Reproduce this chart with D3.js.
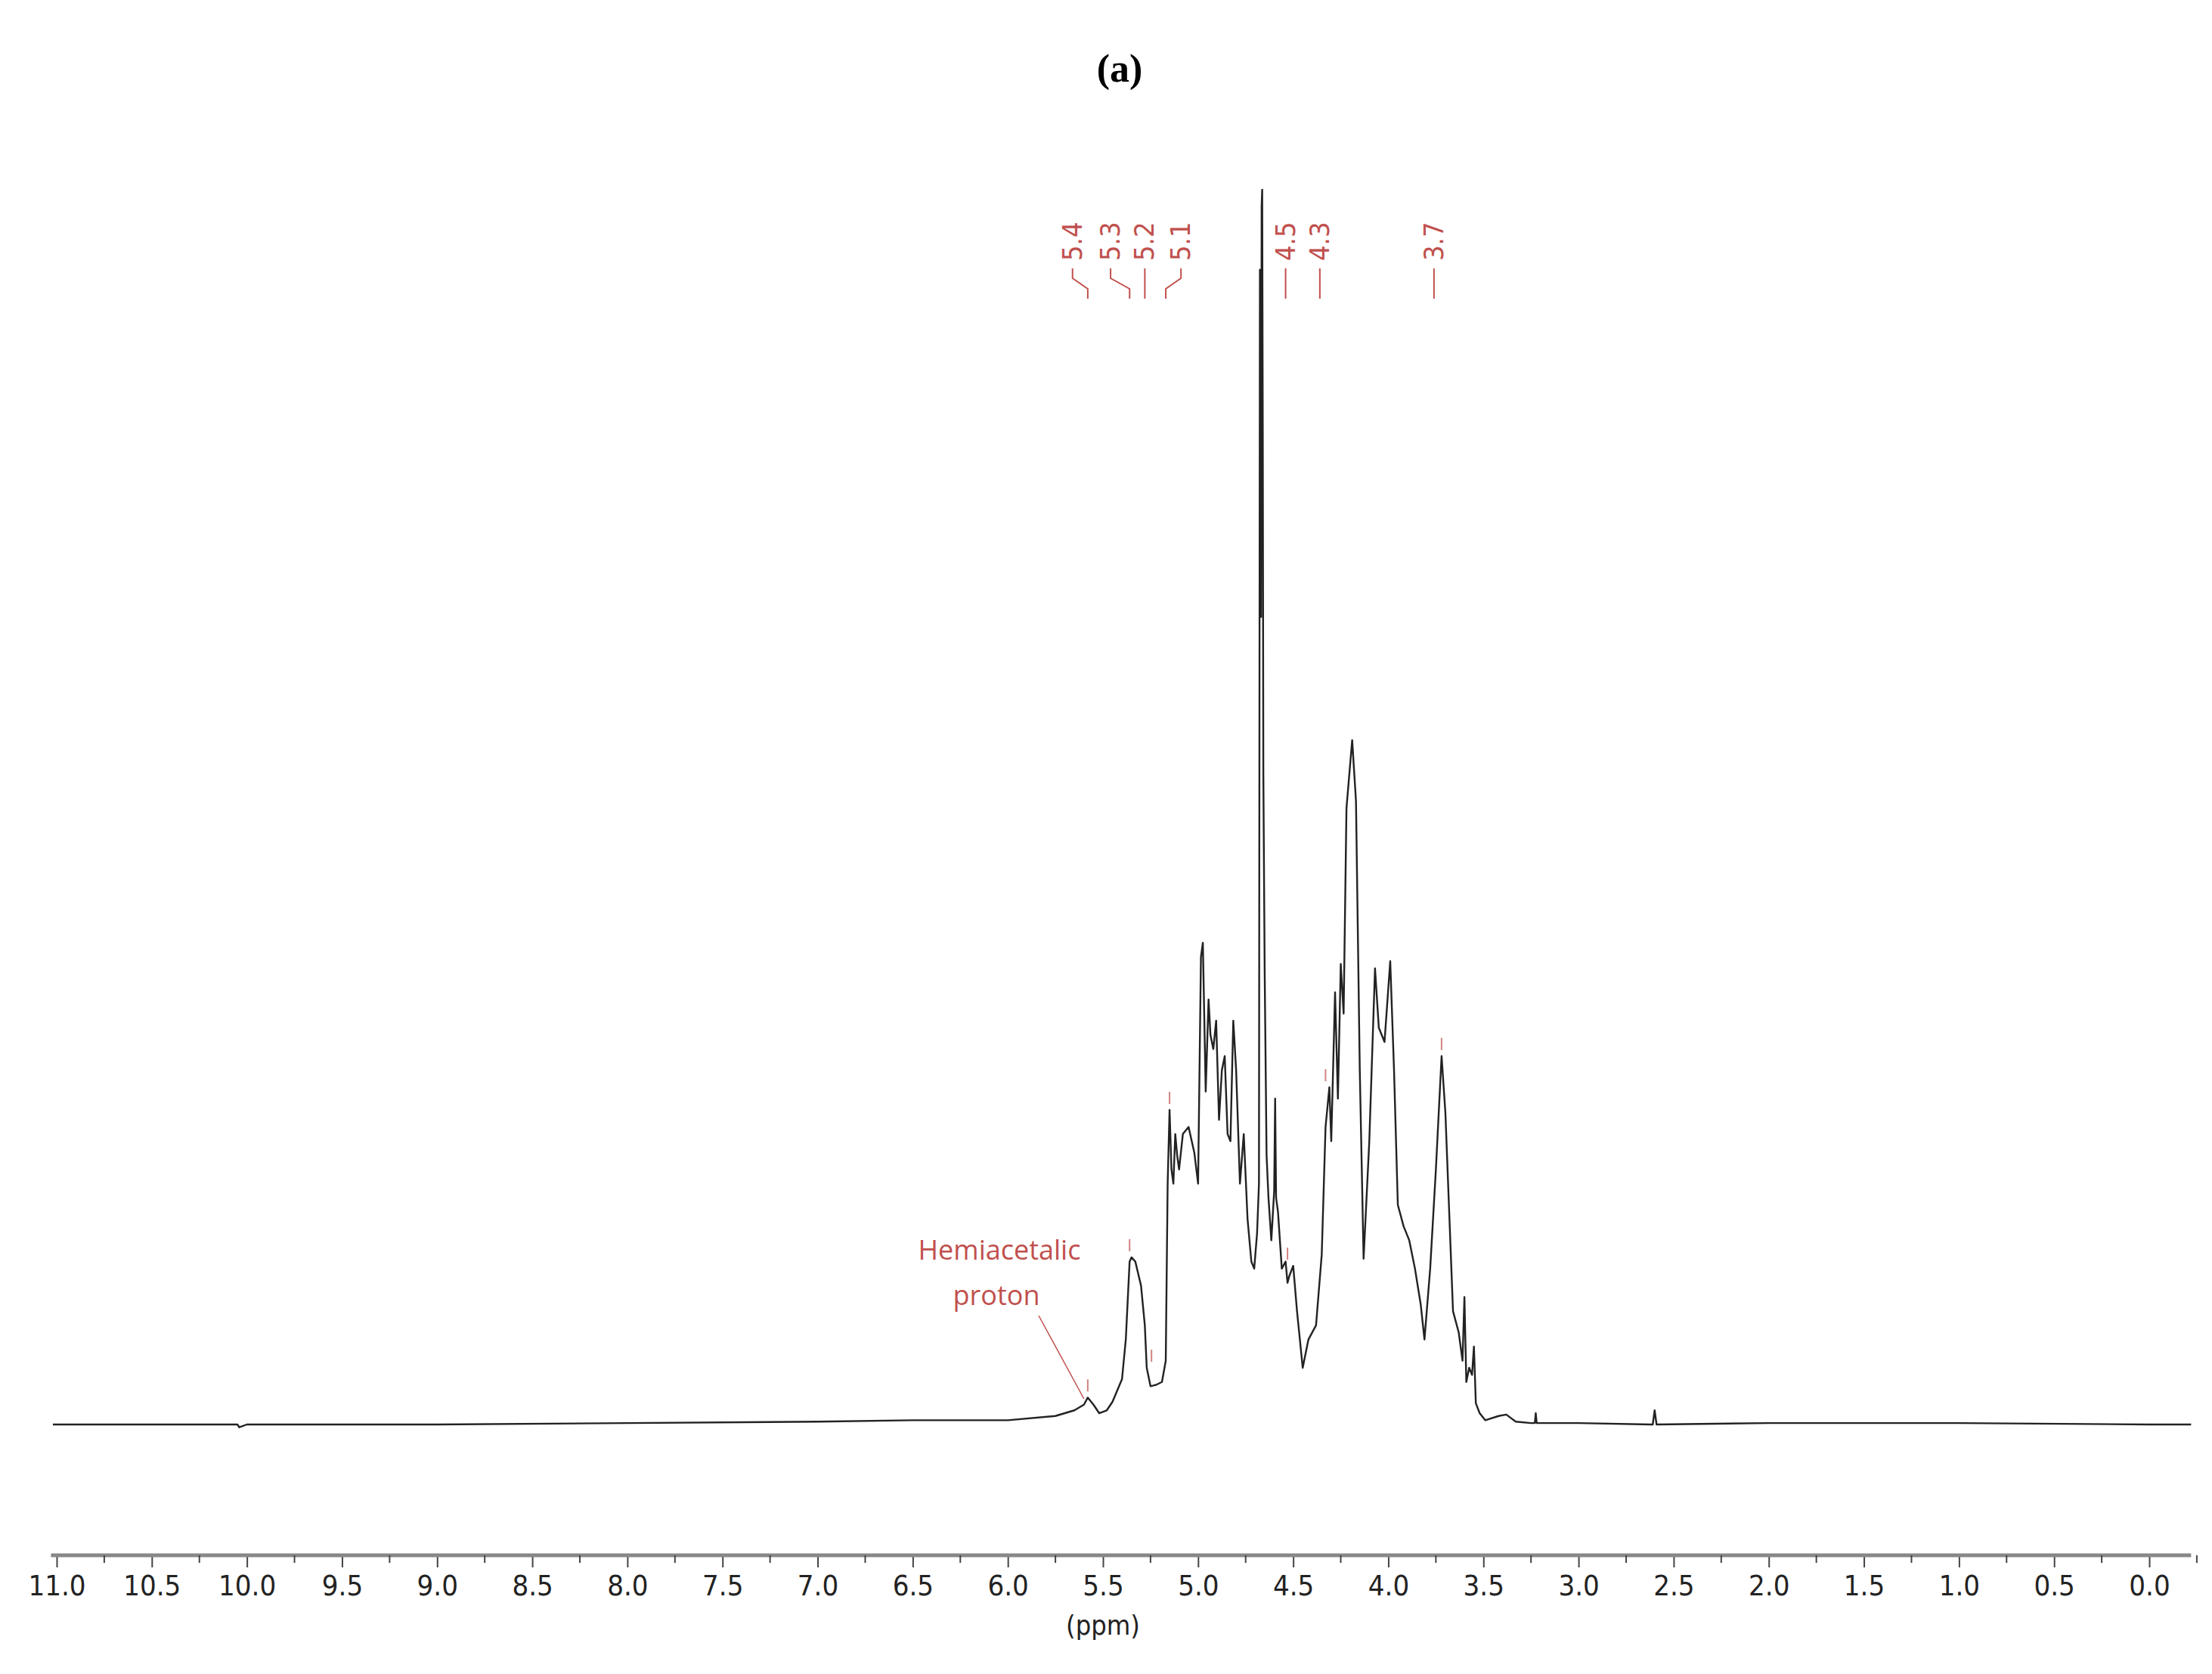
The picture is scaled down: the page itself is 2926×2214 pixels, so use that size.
<!DOCTYPE html>
<html><head><meta charset="utf-8">
<script src="https://cdn.jsdelivr.net/npm/d3@7"></script>
<style>body{margin:0;background:#fff}</style></head>
<body><svg id="c" width="2926" height="2214"></svg>
<script>
// chemical shift (ppm) and relative intensity (a.u.), kept in aligned rows of 10
const ppm = [
    11.02,10.05,10.04,10.0,9.0,8.0,7.0,6.5,6.0,5.75,
    5.65,5.6,5.58,5.55,5.52,5.48,5.45,5.4,5.38,5.36,
    5.35,5.33,5.3,5.28,5.27,5.25,5.22,5.19,5.17,5.16,
    5.15,5.14,5.13,5.12,5.11,5.1,5.08,5.05,5.02,5.0,
    4.985,4.975,4.96,4.945,4.935,4.92,4.905,4.89,4.875,4.86,
    4.845,4.83,4.815,4.8,4.78,4.76,4.74,4.72,4.705,4.69,
    4.68,4.675,4.672,4.669,4.666,4.663,4.66,4.657,4.65,4.64,
    4.63,4.615,4.6,4.595,4.59,4.58,4.56,4.54,4.53,4.52,
    4.5,4.48,4.45,4.42,4.38,4.35,4.33,4.31,4.3,4.28,
    4.265,4.25,4.235,4.22,4.19,4.17,4.15,4.13,4.1,4.07,
    4.05,4.02,3.99,3.97,3.95,3.92,3.89,3.86,3.83,3.81,
    3.78,3.75,3.72,3.7,3.68,3.66,3.63,3.61,3.6,3.59,
    3.575,3.56,3.55,3.54,3.52,3.49,3.42,3.38,3.33,3.25,
    3.23,3.225,3.22,3.0,2.62,2.61,2.6,2.59,2.0,1.0,
    0.0,-0.22];
const intensity = [
    0,0,-2,0,0,1,2,3,3,6,
    10,14,19,14,8,10,16,32,60,115,
    118,115,98,70,40,27,28,30,45,170,
    222,180,170,205,190,180,205,210,192,170,
    330,340,235,300,275,265,285,215,250,260,
    205,200,285,250,170,205,145,115,110,135,
    170,815,750,570,860,872,700,460,320,190,
    160,130,165,230,160,150,110,115,100,105,
    112,80,40,60,70,120,210,238,200,305,
    230,325,290,435,483,440,250,117,200,322,
    280,270,327,250,155,140,130,110,85,60,
    110,180,260,220,150,80,65,45,90,30,
    40,35,55,15,8,3,6,7,2,1,
    1,8,1,1,0,0,10,0,1,1,
    0,0];
const xTicks = d3.range(0, 23).map(i => +(11 - i * 0.5).toFixed(1));
const peakLabels = ["5.4","5.3","5.2","5.1","4.5","4.3","3.7"];
const peakLabelX = [5.66,5.46,5.28,5.09,4.54,4.36,3.76];   // label positions on the ppm axis
const peakLinkX = [5.58,5.36,5.28,5.17,4.54,4.36,3.76];    // where each connector ends
const markX = [5.58,5.36,5.245,5.15,4.53,4.33,3.72];
const markI = [19,118,40,222,112,238,260];

const svg = d3.select("#c");
const red = "#c0504d";

const x = d3.scaleLinear().domain([11.0, 0.0]).range([75, 2843]);
const y = d3.scaleLinear().domain([0, 872]).range([1884, 250]);

svg.append("text").attr("x", 1481).attr("y", 108).attr("text-anchor", "middle")
    .style("font", "bold 52px 'Liberation Serif'").text("(a)");

svg.append("defs").append("clipPath").attr("id", "clip")
    .append("rect").attr("x", 0).attr("y", 250).attr("width", 2926).attr("height", 1800);

const pts = ppm.map((p, i) => [p, intensity[i]]);
svg.append("path").datum(pts)
    .attr("clip-path", "url(#clip)")
    .attr("d", d3.line().x(d => x(d[0])).y(d => y(d[1])))
    .attr("fill", "none").attr("stroke", "#222").attr("stroke-width", 2.4)
    .attr("stroke-linejoin", "round");

// axis
const axis = svg.append("g").attr("transform", "translate(0,2057)");
axis.call(d3.axisBottom(x).tickValues(xTicks).tickFormat(d3.format(".1f")).tickSize(16).tickPadding(10))
    .call(g => g.select(".domain").remove())
    .call(g => g.selectAll(".tick line").attr("stroke", "#444").attr("stroke-width", 2))
    .call(g => g.selectAll("text").style("font", "38px 'DejaVu Sans Condensed','DejaVu Sans'").attr("fill", "#222"));
axis.append("line").attr("x1", x(11.03)).attr("x2", x(-0.22)).attr("stroke", "#888").attr("stroke-width", 5);
axis.selectAll(".minor").data(xTicks.map(d => d - 0.25)).join("line")
    .attr("x1", d => x(d)).attr("x2", d => x(d)).attr("y1", 0).attr("y2", 10)
    .attr("stroke", "#444").attr("stroke-width", 2);
svg.append("text").attr("x", x(5.5)).attr("y", 2162).attr("text-anchor", "middle")
    .style("font", "36px 'DejaVu Sans Condensed','DejaVu Sans'").attr("fill", "#222").text("(ppm)");

// peak labels
const lab = svg.append("g");
peakLabels.forEach((t, i) => {
    const lx = x(peakLabelX[i]), ex = x(peakLinkX[i]);
    lab.append("text").attr("transform", `translate(${lx + 12},345) rotate(-90)`)
        .style("font", "36px 'DejaVu Sans Condensed','DejaVu Sans'").attr("fill", red).text(t);
    lab.append("path").attr("d", `M${lx},355 L${lx},368 L${ex},382 L${ex},395`)
        .attr("fill", "none").attr("stroke", red).attr("stroke-width", 2);
});
// small peak markers
svg.selectAll(".mk").data(markX).join("line")
    .attr("x1", d => x(d)).attr("x2", d => x(d))
    .attr("y1", (d, i) => y(markI[i]) - 8).attr("y2", (d, i) => y(markI[i]) - 24)
    .attr("stroke", red).attr("stroke-width", 2).attr("opacity", 0.7);

// annotation
svg.append("text").attr("x", 1322).attr("y", 1666).attr("text-anchor", "middle")
    .style("font", "36px 'Open Sans'").attr("fill", red).text("Hemiacetalic");
svg.append("text").attr("x", 1318).attr("y", 1726).attr("text-anchor", "middle")
    .style("font", "36px 'Open Sans'").attr("fill", red).text("proton");
svg.append("line").attr("x1", 1374).attr("y1", 1740).attr("x2", x(5.6)).attr("y2", 1850)
    .attr("stroke", red).attr("stroke-width", 1.5);
</script></body></html>
